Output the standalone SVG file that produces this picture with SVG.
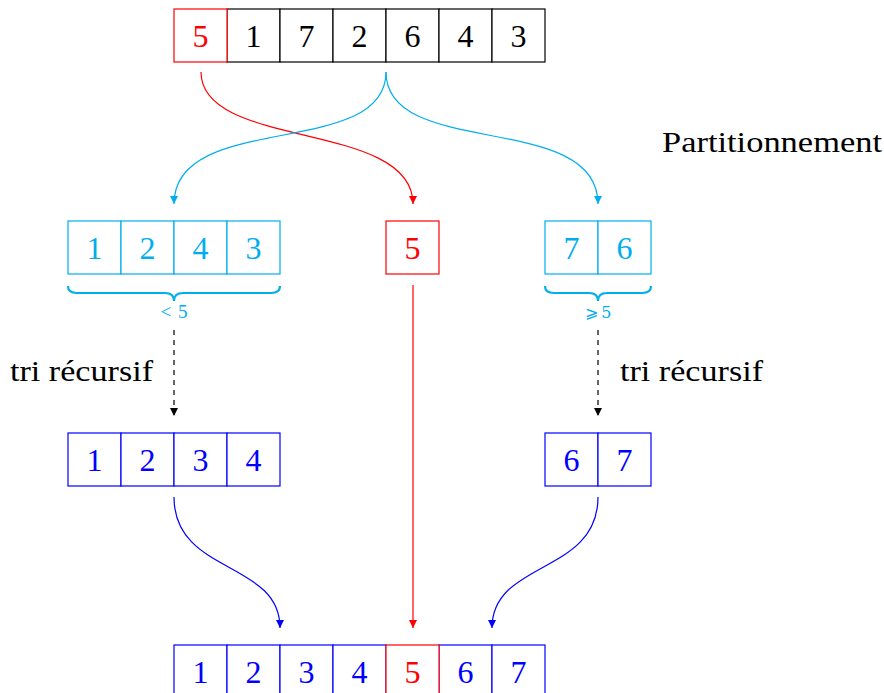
<svg xmlns="http://www.w3.org/2000/svg" width="884" height="693" viewBox="0 0 884 693">
  <style>
    .cell { fill: #ffffff; stroke-width: 1.2; }
    .k { stroke: #000000; }
    .r { stroke: #ff0000; }
    .c { stroke: #00aeef; }
    .b { stroke: #0000ff; }
    .edge { fill: none; stroke-width: 1.2; }
    .brace { fill: none; stroke: #00aeef; stroke-width: 2.2; }
  </style>
  <defs>
    <marker id="ah-r" viewBox="0 0 10 10" refX="10" refY="5" markerWidth="8" markerHeight="8" markerUnits="userSpaceOnUse" orient="auto">
      <path d="M0,0 L10,5 L0,10 z" fill="#ff0000"/>
    </marker>
    <marker id="ah-c" viewBox="0 0 10 10" refX="10" refY="5" markerWidth="8" markerHeight="8" markerUnits="userSpaceOnUse" orient="auto">
      <path d="M0,0 L10,5 L0,10 z" fill="#00aeef"/>
    </marker>
    <marker id="ah-b" viewBox="0 0 10 10" refX="10" refY="5" markerWidth="8" markerHeight="8" markerUnits="userSpaceOnUse" orient="auto">
      <path d="M0,0 L10,5 L0,10 z" fill="#0000ff"/>
    </marker>
    <marker id="ah-k" viewBox="0 0 10 10" refX="10" refY="5" markerWidth="8" markerHeight="8" markerUnits="userSpaceOnUse" orient="auto">
      <path d="M0,0 L10,5 L0,10 z" fill="#000000"/>
    </marker>
  </defs>

  <!-- connectors -->
  <g id="connectors">
    <path class="edge" stroke="#ff0000" d="M201,72 C201,150 413,120 413,204" marker-end="url(#ah-r)"/>
    <path class="edge" stroke="#00aeef" d="M386,72 C386,160 174,110 174,204" marker-end="url(#ah-c)"/>
    <path class="edge" stroke="#00aeef" d="M386,72 C386,160 598,110 598,204" marker-end="url(#ah-c)"/>
    <path class="edge" stroke="#ff0000" d="M413,285 L413,628" marker-end="url(#ah-r)"/>
    <path class="edge" stroke="#000000" stroke-dasharray="5,5" d="M174,330 L174,416" marker-end="url(#ah-k)"/>
    <path class="edge" stroke="#000000" stroke-dasharray="5,5" d="M598,330 L598,416" marker-end="url(#ah-k)"/>
    <path class="edge" stroke="#0000ff" d="M174,497 C174,575 280,560 280,628" marker-end="url(#ah-b)"/>
    <path class="edge" stroke="#0000ff" d="M598,497 C598,575 492,560 492,628" marker-end="url(#ah-b)"/>
  </g>

  <!-- input array -->
  <g id="input">
    <rect class="cell k" x="227" y="9" width="53" height="53"/>
    <rect class="cell k" x="280" y="9" width="53" height="53"/>
    <rect class="cell k" x="333" y="9" width="53" height="53"/>
    <rect class="cell k" x="386" y="9" width="53" height="53"/>
    <rect class="cell k" x="439" y="9" width="53" height="53"/>
    <rect class="cell k" x="492" y="9" width="53" height="53"/>
    <rect class="cell r" x="174" y="9" width="53" height="53"/>
    <g font-family="Liberation Serif" font-size="32" text-anchor="middle" fill="#000000">
      <text x="200.5" y="47" fill="#ff0000" font-family="Liberation Serif">5</text>
      <text x="253.5" y="47" font-family="Liberation Serif">1</text>
      <text x="306.5" y="47" font-family="Liberation Serif">7</text>
      <text x="359.5" y="47" font-family="Liberation Serif">2</text>
      <text x="412.5" y="47" font-family="Liberation Serif">6</text>
      <text x="465.5" y="47" font-family="Liberation Serif">4</text>
      <text x="518.5" y="47" font-family="Liberation Serif">3</text>
    </g>
  </g>

  <g id="partition-label">
    <text x="662" y="152" font-family="Liberation Serif" font-size="30" fill="#000000" textLength="220" lengthAdjust="spacingAndGlyphs">Partitionnement</text>
  </g>

  <!-- partition: smaller than pivot -->
  <g id="lower">
    <rect class="cell c" x="68" y="221" width="53" height="53"/>
    <rect class="cell c" x="121" y="221" width="53" height="53"/>
    <rect class="cell c" x="174" y="221" width="53" height="53"/>
    <rect class="cell c" x="227" y="221" width="53" height="53"/>
    <g font-family="Liberation Serif" font-size="32" text-anchor="middle" fill="#00aeef">
      <text x="94.5" y="259" font-family="Liberation Serif">1</text>
      <text x="147.5" y="259" font-family="Liberation Serif">2</text>
      <text x="200.5" y="259" font-family="Liberation Serif">4</text>
      <text x="253.5" y="259" font-family="Liberation Serif">3</text>
    </g>
    <path class="brace" d="M68,286 Q68,293 77,293 L165,293 Q174,293 174,301 Q174,293 183,293 L271,293 Q280,293 280,286"/>
    <text x="174" y="318" font-family="Liberation Serif" font-size="19" text-anchor="middle" fill="#00aeef" textLength="27" lengthAdjust="spacing">&lt; 5</text>
  </g>

  <!-- pivot -->
  <g id="pivot">
    <rect class="cell r" x="386" y="221" width="53" height="53"/>
    <text x="412.5" y="259" font-family="Liberation Serif" font-size="32" text-anchor="middle" fill="#ff0000">5</text>
  </g>

  <!-- partition: greater or equal -->
  <g id="upper">
    <rect class="cell c" x="545" y="221" width="53" height="53"/>
    <rect class="cell c" x="598" y="221" width="53" height="53"/>
    <g font-family="Liberation Serif" font-size="32" text-anchor="middle" fill="#00aeef">
      <text x="571.5" y="259" font-family="Liberation Serif">7</text>
      <text x="624.5" y="259" font-family="Liberation Serif">6</text>
    </g>
    <path class="brace" d="M545,286 Q545,293 554,293 L589,293 Q598,293 598,301 Q598,293 607,293 L642,293 Q651,293 651,286"/>
    <text x="598" y="318" font-family="DejaVu Serif" font-size="16" text-anchor="middle" fill="#00aeef" textLength="27" lengthAdjust="spacing">⩾ 5</text>
  </g>

  <g id="rec-left-label">
    <text x="10" y="381" font-family="Liberation Serif" font-size="30" fill="#000000" textLength="143" lengthAdjust="spacingAndGlyphs">tri récursif</text>
  </g>
  <g id="rec-right-label">
    <text x="620" y="381" font-family="Liberation Serif" font-size="30" fill="#000000" textLength="143" lengthAdjust="spacingAndGlyphs">tri récursif</text>
  </g>

  <!-- sorted halves -->
  <g id="lower-sorted">
    <rect class="cell b" x="68" y="433" width="53" height="53"/>
    <rect class="cell b" x="121" y="433" width="53" height="53"/>
    <rect class="cell b" x="174" y="433" width="53" height="53"/>
    <rect class="cell b" x="227" y="433" width="53" height="53"/>
    <g font-family="Liberation Serif" font-size="32" text-anchor="middle" fill="#0000ff">
      <text x="94.5" y="471" font-family="Liberation Serif">1</text>
      <text x="147.5" y="471" font-family="Liberation Serif">2</text>
      <text x="200.5" y="471" font-family="Liberation Serif">3</text>
      <text x="253.5" y="471" font-family="Liberation Serif">4</text>
    </g>
  </g>
  <g id="upper-sorted">
    <rect class="cell b" x="545" y="433" width="53" height="53"/>
    <rect class="cell b" x="598" y="433" width="53" height="53"/>
    <g font-family="Liberation Serif" font-size="32" text-anchor="middle" fill="#0000ff">
      <text x="571.5" y="471" font-family="Liberation Serif">6</text>
      <text x="624.5" y="471" font-family="Liberation Serif">7</text>
    </g>
  </g>

  <!-- result -->
  <g id="result">
    <rect class="cell b" x="174" y="645" width="53" height="53"/>
    <rect class="cell b" x="227" y="645" width="53" height="53"/>
    <rect class="cell b" x="280" y="645" width="53" height="53"/>
    <rect class="cell b" x="333" y="645" width="53" height="53"/>
    <rect class="cell b" x="439" y="645" width="53" height="53"/>
    <rect class="cell b" x="492" y="645" width="53" height="53"/>
    <rect class="cell r" x="386" y="645" width="53" height="53"/>
    <g font-family="Liberation Serif" font-size="32" text-anchor="middle" fill="#0000ff">
      <text x="200.5" y="683" font-family="Liberation Serif">1</text>
      <text x="253.5" y="683" font-family="Liberation Serif">2</text>
      <text x="306.5" y="683" font-family="Liberation Serif">3</text>
      <text x="359.5" y="683" font-family="Liberation Serif">4</text>
      <text x="412.5" y="683" fill="#ff0000" font-family="Liberation Serif">5</text>
      <text x="465.5" y="683" font-family="Liberation Serif">6</text>
      <text x="518.5" y="683" font-family="Liberation Serif">7</text>
    </g>
  </g>
</svg>
